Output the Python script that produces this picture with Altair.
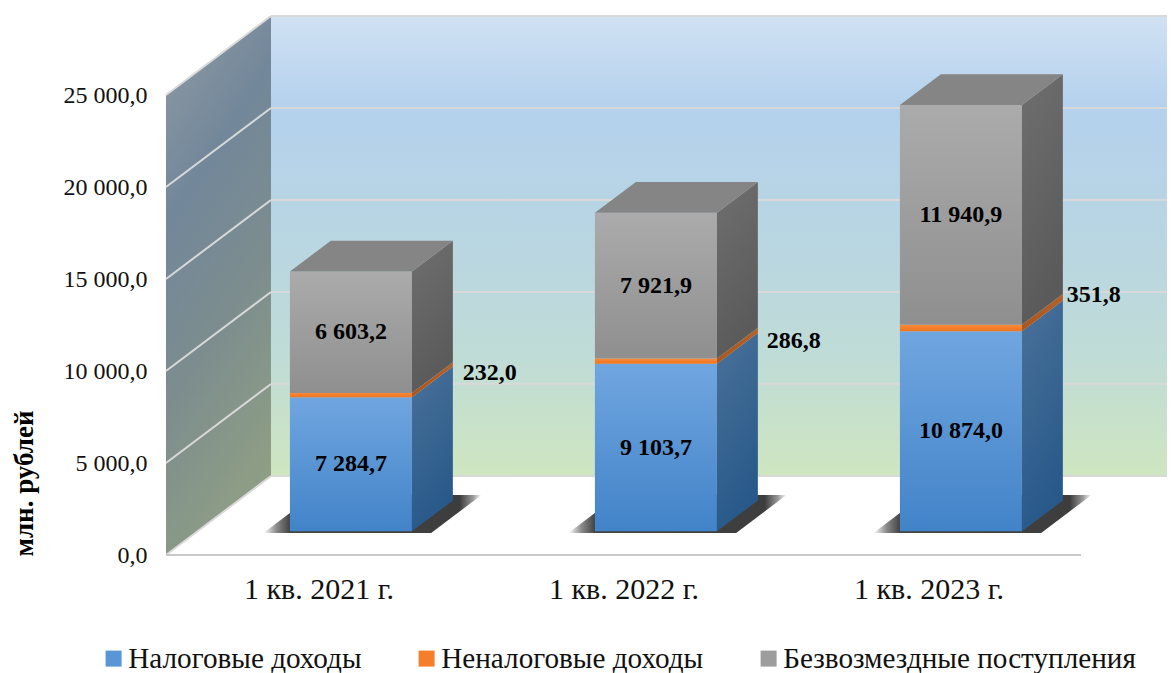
import altair as alt
import pandas as pd

FONT = "Liberation Serif"
years = ["1 кв. 2021 г.", "1 кв. 2022 г.", "1 кв. 2023 г."]
series = ["Налоговые доходы", "Неналоговые доходы", "Безвозмездные поступления"]
tax = [7284.7, 9103.7, 10874.0]
nontax = [232.0, 286.8, 351.8]
grants = [6603.2, 7921.9, 11940.9]
labels_tax = ["7 284,7", "9 103,7", "10 874,0"]
labels_nontax = ["232,0", "286,8", "351,8"]
labels_grants = ["6 603,2", "7 921,9", "11 940,9"]
ticks = [0, 5000, 10000, 15000, 20000, 25000]
# hand-placed offsets of the outer labels, in pixels
outer_dx = [10, 9, 4]
outer_dy = [-9, -11, 2]

# scale geometry
PX_CAT = 305.0
PX_VAL = 18.4 / 1000
W, H = 1001, 540
DX = 105 / PX_CAT      # depth shift in category units
DY = 79 / PX_VAL       # depth shift in value units
F, B = 0.30, 0.69      # front / back depth of the bars
HALF = 0.2
CENTER = 0.503
XMAX, YMAX = W / PX_CAT, H / PX_VAL


def grad(stops, x1=0, y1=0, x2=0, y2=1):
    return alt.Gradient(
        gradient="linear", x1=x1, y1=y1, x2=x2, y2=y2,
        stops=[alt.GradientStop(offset=o, color=c) for o, c in stops],
    )


num_expr = "replace(replace(format(datum.value, ',.1f'), ',', ' '), '.', ',')"
x_axis = alt.Axis(
    values=[0.5, 1.5, 2.5], labelExpr=f"{years!r}[floor(datum.value)]", title=None,
    domain=False, ticks=False, grid=False, labelFont=FONT, labelFontSize=30,
    labelColor="#111111", labelPadding=19, labelAngle=0,
)
y_axis = alt.Axis(
    values=ticks, labelExpr=num_expr, title="млн. рублей", titleFont=FONT,
    titleFontSize=27, titleFontWeight="bold", titleColor="#000000", titleAngle=270,
    titleX=-142, titleY=468, titleAlign="center", titleBaseline="middle",
    domain=False, ticks=False, grid=False, labelFont=FONT, labelFontSize=24,
    labelColor="#111111", labelPadding=19,
)
xs = alt.Scale(domain=[0, XMAX], range=[0, W], nice=False, zero=False)
ys = alt.Scale(domain=[0, YMAX], range=[H, 0], nice=False, zero=False)
X = alt.X("x:Q", scale=xs, axis=x_axis, stack=None)
Y = alt.Y("y:Q", scale=ys, axis=y_axis, stack=None)

# walls
back = pd.DataFrame({"x": [DX, XMAX], "y": [DY, DY], "y2": [25000 + DY, 25000 + DY]})
back_wall = alt.Chart(back).mark_area(
    orient="vertical",
    color=grad([(0, "#d0e1f3"), (0.2, "#b4d1ed"), (0.5, "#b9d6e2"), (0.75, "#c0dcd6"), (1, "#cfe6c0")]),
).encode(x=X, y=Y, y2="y2:Q")
side = pd.DataFrame({"x": [0, DX], "y": [0, DY], "y2": [25000, 25000 + DY]})
side_wall = alt.Chart(side).mark_area(
    orient="vertical",
    color=grad([(0, "#8c98a3"), (0.3, "#72879a"), (0.62, "#7d8d8e"), (1, "#8f9f84")], x1=0.2, y1=0, x2=0.5, y2=1),
).encode(x=X, y=Y, y2="y2:Q")

# grid lines
back_lines = alt.Chart(pd.DataFrame({"v": ticks, "x": DX, "x2": XMAX})).transform_calculate(
    y=f"datum.v + {DY}"
).mark_rule(color="#d9d9d9", strokeWidth=2).encode(x=X, x2="x2:Q", y=Y)
side_rows = []
for t in ticks:
    side_rows += [{"t": t, "x": 0, "y": t}, {"t": t, "x": DX, "y": t + DY}]
side_lines = alt.Chart(pd.DataFrame(side_rows)).mark_line(color="#d9d9d9", strokeWidth=2).encode(
    x=X, y=Y, detail="t:N"
)
front_line = alt.Chart(pd.DataFrame({"x": [0], "x2": [3], "y": [0]})).mark_rule(
    color="#c9c9c9", strokeWidth=2
).encode(x=X, x2="x2:Q", y=Y)

# bar geometry, built from the values
fronts, sides, shadows, tops = [], [], [], []
for i in range(3):
    c = i + CENTER
    lo = 0.0
    for k, v in enumerate([tax[i], nontax[i], grants[i]]):
        hi = lo + v
        fronts.append({"bar": i, "s": k, "x": c - HALF + F * DX, "x2": c + HALF + F * DX,
                       "y": hi + F * DY, "y2": lo + F * DY})
        for d in (F, B):
            sides.append({"id": f"{i}-{k}", "s": k, "x": c + HALF + d * DX, "y": hi + d * DY, "y2": lo + d * DY})
        lo = hi
    for d in (F, B):
        tops.append({"bar": i, "x": c - HALF + d * DX, "x2": c + HALF + d * DX, "y": lo + d * DY})
    for d in (0.28, 0.76):
        shadows.append({"bar": i, "x": c - HALF - 0.08 + d * DX, "x2": c + HALF + 0.07 + d * DX, "y": d * DY})
fronts, sides = pd.DataFrame(fronts), pd.DataFrame(sides)

shadow = alt.Chart(pd.DataFrame(shadows)).mark_area(
    orient="horizontal",
    color=grad([(0, "#ffffff"), (0.06, "#8a8a8a"), (0.12, "#444444"), (0.9, "#3d3d3d"), (0.96, "#999999"), (1, "#ffffff")], x1=0, y1=0, x2=1, y2=0),
).encode(x=X, x2="x2:Q", y=Y, detail="bar:N")

front_fill = [
    grad([(0, "#70a6e0"), (1, "#4283c8")]),
    grad([(0, "#f98a38"), (1, "#ee7420")]),
    grad([(0, "#ababab"), (1, "#8f8f8f")]),
]
side_fill = [
    grad([(0, "#4a7199"), (1, "#28598a")], x1=0, y1=0, x2=0.3, y2=1),
    grad([(0, "#b5622a"), (1, "#a9551c")]),
    grad([(0, "#6f6f6f"), (1, "#5a5a5a")], x1=0, y1=0, x2=0.3, y2=1),
]
layers_f = [
    alt.Chart(fronts[fronts.s == k]).mark_rect(color=front_fill[k]).encode(x=X, x2="x2:Q", y=Y, y2="y2:Q")
    for k in range(3)
]
layers_s = [
    alt.Chart(sides[sides.s == k]).mark_area(orient="vertical", color=side_fill[k]).encode(
        x=X, y=Y, y2="y2:Q", detail="id:N"
    )
    for k in range(3)
]
top_faces = alt.Chart(pd.DataFrame(tops)).mark_area(orient="horizontal", color="#858585").encode(
    x=X, x2="x2:Q", y=Y, detail="bar:N"
)

# data labels
txt = []
for i in range(3):
    c = i + CENTER + F * DX
    txt.append({"x": c, "y": tax[i] / 2 + F * DY, "t": labels_tax[i]})
    txt.append({"x": c, "y": tax[i] + nontax[i] + grants[i] / 2 + F * DY, "t": labels_grants[i]})
inner = alt.Chart(pd.DataFrame(txt)).mark_text(
    font=FONT, fontSize=24, fontWeight="bold", color="#000000", align="center", baseline="middle"
).encode(x=X, y=Y, text="t:N")
out = []
for i in range(3):
    out.append({
        "x": i + CENTER + HALF + B * DX + outer_dx[i] / PX_CAT,
        "y": tax[i] + nontax[i] / 2 + B * DY + outer_dy[i] / PX_VAL,
        "t": labels_nontax[i],
    })
outer = alt.Chart(pd.DataFrame(out)).mark_text(
    font=FONT, fontSize=24, fontWeight="bold", color="#000000", align="left", baseline="middle"
).encode(x=X, y=Y, text="t:N")

# legend carrier
legend_layer = alt.Chart(pd.DataFrame({"s": series, "x": [1, 1, 1], "y": [1, 1, 1]})).mark_square(
    opacity=0, size=1
).encode(
    x=X, y=Y,
    color=alt.Color(
        "s:N",
        scale=alt.Scale(domain=series, range=["#5896d8", "#f47e2a", "#9d9d9d"]),
        legend=alt.Legend(
            title=None, orient="none", legendX=-67, legendY=629, direction="horizontal",
            symbolType="square", symbolSize=256, symbolOpacity=1, symbolStrokeWidth=0,
            labelFont=FONT, labelFontSize=29.2, labelColor="#111111", labelOffset=0,
            columnPadding=50, padding=0, labelLimit=500, gridAlign="none",
        ),
    ),
)

chart = alt.layer(
    back_wall, side_wall, back_lines, side_lines, front_line, shadow,
    *layers_f, *layers_s, top_faces, inner, outer, legend_layer,
).properties(
    width=W, height=H,
    autosize=alt.AutoSizeParams(type="none"),
    padding={"left": 158, "top": 7, "right": 0, "bottom": 118},
    background="#ffffff",
).configure_view(stroke=None)

chart.save("out.html", embed_options={"renderer": "svg", "actions": False})
